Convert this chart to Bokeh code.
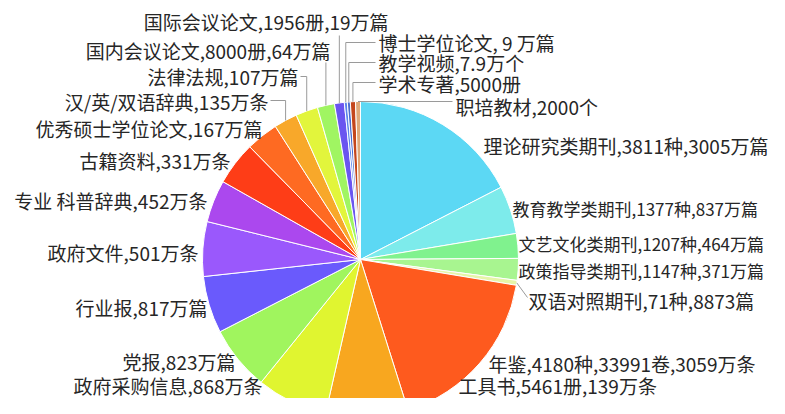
import math
from bokeh.plotting import figure
from bokeh.models import Range1d, ColumnDataSource
from bokeh.core.properties import value
from bokeh.embed import file_html
from bokeh.resources import INLINE

# ---------------- data (slice order: clockwise from 12 o'clock) ----------------
categories = ["理论研究类期刊", "教育教学类期刊", "文艺文化类期刊", "政策指导类期刊", "双语对照期刊",
              "年鉴", "工具书", "政府采购信息", "党报", "行业报", "政府文件", "专业 科普辞典",
              "古籍资料", "优秀硕士学位论文", "汉/英/双语辞典", "法律法规", "国内会议论文",
              "国际会议论文", "博士学位论文", "教学视频", "学术专著", "职培教材"]
label_texts = ["理论研究类期刊,3811种,3005万篇", "教育教学类期刊,1377种,837万篇",
               "文艺文化类期刊,1207种,464万篇", "政策指导类期刊,1147种,371万篇",
               "双语对照期刊,71种,8873篇", "年鉴,4180种,33991卷,3059万条",
               "工具书,5461册,139万条", "政府采购信息,868万条", "党报,823万篇",
               "行业报,817万篇", "政府文件,501万条", "专业 科普辞典,452万条",
               "古籍资料,331万条", "优秀硕士学位论文,167万篇", "汉/英/双语辞典,135万条",
               "法律法规,107万篇", "国内会议论文,8000册,64万篇", "国际会议论文,1956册,19万篇",
               "博士学位论文, 9 万篇", "教学视频,7.9万个", "学术专著,5000册", "职培教材,2000个"]
# slice sizes as drawn in the picture (degrees of the circle)
slice_sizes = [62.8, 17.7, 9.1, 8.0, 1.8, 63.1, 30.3, 26.2, 23.8, 21.0, 20.1, 15.6,
               16.0, 11.9, 8.6, 8.2, 6.3, 3.6, 1.1, 1.1, 1.9, 1.8]
colors = ["#5cd8f4", "#7debeb", "#80f28e", "#a8f590", "#e6f5a8", "#fe5a1e", "#f8a71f",
          "#e0f530", "#a0f55e", "#6a5afc", "#9a58fc", "#ab48ee", "#fe3d17", "#fe6a22",
          "#f8a82a", "#e2f53c", "#a0f562", "#6a55f0", "#5a84ec", "#4a6ed0", "#c4461c", "#e0a878"]

# ---------------- layout (picture pixel coordinates, from top-left) ----------------
CX, CY, R = 360, 259, 158
label_pos = [(483, 145, "left"), (512, 208, "left"), (518, 243, "left"), (518, 270, "left"),
             (528, 300, "left"), (488, 363, "left"), (458, 385, "left"), (262, 385, "right"),
             (235, 361, "right"), (207, 307, "right"), (198, 252, "right"), (207, 200, "right"),
             (230, 160, "right"), (262, 128, "right"), (268, 101, "right"), (298, 76, "right"),
             (330, 50, "right"), (388, 21, "right"), (378, 42, "left"), (378, 62, "left"),
             (378, 83, "left"), (455, 106, "left")]
label_size = ["19px", "17px", "17px", "17px", "19px", "19px", "19px", "19px", "19px", "19px",
              "19px", "19px", "19px", "19px", "19px", "19px", "19px", "19px", "19px", "19px",
              "19px", "19px"]
# leader line start points keyed by slice index; None x -> vertical drop
leader_start = {17: (None, 35), 16: (None, 62), 15: (300, 76), 14: (270, 100),
                18: (375, 42), 19: (375, 62), 20: (375, 82), 21: (452, 101),
                4: (527, 297)}

W, H = 769, 398
def py(Y):
    return H - Y

p = figure(width=W, height=H, x_range=Range1d(0, W), y_range=Range1d(0, H),
           output_backend="svg", toolbar_location=None, min_border=0,
           background_fill_color="white", border_fill_color="white")
p.axis.visible = False
p.grid.visible = False
p.outline_line_color = None

total = sum(slice_sizes)
starts, ends, mids = [], [], []
acc = 0.0
for s in slice_sizes:
    a0 = 90 - acc / total * 360
    acc += s
    a1 = 90 - acc / total * 360
    starts.append(math.radians(a0))
    ends.append(math.radians(a1))
    mids.append(math.radians((a0 + a1) / 2))

src = ColumnDataSource(dict(start=starts, end=ends, color=colors, cat=categories))
p.wedge(x=CX, y=py(CY), radius=R, start_angle="start", end_angle="end", direction="clock",
        fill_color="color", line_color="white", line_width=1, source=src)

# leader lines
xs, ys = [], []
for i, (sx, sy) in leader_start.items():
    ex = CX + R * math.cos(mids[i])
    ey = py(CY) + R * math.sin(mids[i])
    if sx is None:
        xs.append([ex, ex]); ys.append([py(sy), ey])
    elif i == 4:
        xs.append([sx, ex]); ys.append([py(sy), ey])
    else:
        xs.append([sx, ex, ex]); ys.append([py(sy), py(sy), ey])
p.multi_line(xs=xs, ys=ys, line_color="#9a9a9a", line_width=1)

tsrc = ColumnDataSource(dict(
    x=[lp[0] for lp in label_pos], y=[py(lp[1]) for lp in label_pos],
    text=label_texts, align=[lp[2] for lp in label_pos], size=label_size))
p.text(x="x", y="y", text="text", text_align="align", text_baseline="middle",
       text_font=value("Noto Sans CJK SC"), text_font_size="size", text_color="#262626",
       source=tsrc)

open("out.html", "w").write(file_html(p, INLINE))
